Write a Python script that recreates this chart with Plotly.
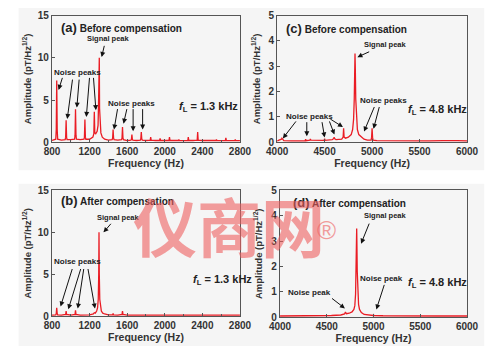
import plotly.graph_objects as go

# ---------------- data ----------------
freq_a = [800, 820, 840, 845, 850, 855, 860, 900, 940, 945, 950, 955, 960, 1000, 1040, 1045, 1050, 1055, 1060,
          1100, 1140, 1145, 1150, 1155, 1160, 1200, 1235, 1245, 1250, 1255, 1265, 1280, 1290, 1295, 1298, 1303,
          1306, 1312, 1320, 1335, 1360, 1400, 1440, 1445, 1450, 1455, 1460, 1500, 1540, 1545, 1550, 1555, 1560,
          1600, 1640, 1645, 1650, 1655, 1660, 1700, 1740, 1745, 1750, 1755, 1760, 1800, 1845, 1850, 1855, 1900,
          1945, 1950, 1955, 2000, 2045, 2050, 2055, 2100, 2145, 2150, 2155, 2200, 2245, 2250, 2255, 2300, 2345,
          2350, 2355, 2400, 2445, 2450, 2455, 2500, 2545, 2550, 2555, 2600, 2645, 2650, 2655, 2700, 2745, 2750,
          2755, 2800]
amp_a = [0.2, 0.25, 0.35, 1.5, 7.3, 1.5, 0.35, 0.25, 0.3, 0.6, 2.6, 0.6, 0.3, 0.3, 0.35, 0.8, 3.9, 0.8, 0.35,
         0.3, 0.35, 0.6, 2.7, 0.6, 0.35, 0.35, 0.6, 1.0, 3.6, 1.1, 1.0, 1.3, 2.0, 4.5, 10.0, 10.0, 4.0, 1.8,
         1.1, 0.6, 0.35, 0.25, 0.3, 0.5, 1.5, 0.5, 0.3, 0.25, 0.3, 0.5, 1.8, 0.5, 0.3, 0.2, 0.25, 0.35, 0.9,
         0.35, 0.25, 0.2, 0.25, 0.4, 1.2, 0.4, 0.25, 0.2, 0.25, 0.6, 0.25, 0.2, 0.22, 0.45, 0.22, 0.2, 0.22,
         0.6, 0.22, 0.2, 0.2, 0.3, 0.2, 0.18, 0.22, 0.6, 0.22, 0.2, 0.25, 1.2, 0.25, 0.2, 0.18, 0.25, 0.18,
         0.18, 0.2, 0.3, 0.2, 0.18, 0.22, 0.5, 0.22, 0.18, 0.2, 0.3, 0.2, 0.18]

freq_b = [800, 820, 840, 845, 850, 855, 860, 900, 945, 950, 955, 1000, 1045, 1050, 1055, 1100, 1145, 1150, 1155,
          1200, 1240, 1250, 1260, 1275, 1285, 1292, 1297, 1300, 1303, 1308, 1315, 1325, 1340, 1360, 1400, 1445,
          1450, 1455, 1500, 1545, 1550, 1555, 1600, 1700, 1800, 1900, 2000, 2050, 2100, 2200, 2300, 2350, 2400,
          2500, 2600, 2650, 2700, 2800]
amp_b = [0.12, 0.12, 0.15, 0.3, 1.0, 0.3, 0.15, 0.12, 0.2, 0.6, 0.2, 0.12, 0.2, 0.7, 0.2, 0.12, 0.12, 0.2, 0.12,
         0.15, 0.25, 0.4, 0.35, 0.6, 1.0, 2.0, 5.0, 10.0, 5.0, 2.0, 1.0, 0.6, 0.35, 0.25, 0.15, 0.15, 0.3, 0.15,
         0.12, 0.2, 0.6, 0.2, 0.12, 0.12, 0.12, 0.12, 0.12, 0.2, 0.12, 0.12, 0.12, 0.2, 0.12, 0.12, 0.12, 0.18,
         0.12, 0.12]

freq_c = [4000, 4030, 4045, 4050, 4055, 4070, 4150, 4250, 4295, 4300, 4305, 4345, 4350, 4355, 4450, 4495, 4500,
          4505, 4580, 4595, 4600, 4605, 4620, 4680, 4695, 4700, 4705, 4720, 4750, 4780, 4795, 4805, 4812, 4817,
          4820, 4823, 4828, 4835, 4845, 4860, 4885, 4900, 4915, 4950, 4990, 4995, 5000, 5005, 5010, 5050, 5200,
          5400, 5600, 5750, 5800, 5900, 6000]
amp_c = [0.05, 0.08, 0.12, 0.16, 0.12, 0.06, 0.05, 0.05, 0.06, 0.12, 0.06, 0.08, 0.13, 0.08, 0.06, 0.07, 0.14,
         0.07, 0.1, 0.14, 0.2, 0.14, 0.1, 0.12, 0.2, 0.55, 0.2, 0.16, 0.2, 0.3, 0.5, 0.9, 1.7, 3.0, 3.5, 3.0,
         1.7, 0.9, 0.5, 0.3, 0.2, 0.16, 0.12, 0.08, 0.08, 0.2, 0.55, 0.2, 0.08, 0.06, 0.05, 0.05, 0.05, 0.06,
         0.05, 0.06, 0.05]

freq_d = [4000, 4200, 4400, 4550, 4650, 4690, 4700, 4710, 4740, 4770, 4790, 4800, 4808, 4814, 4818, 4820, 4822,
          4826, 4832, 4840, 4850, 4870, 4900, 4950, 4995, 5000, 5005, 5100, 5300, 5500, 5700, 6000]
amp_d = [0.04, 0.04, 0.05, 0.06, 0.08, 0.12, 0.2, 0.13, 0.15, 0.2, 0.3, 0.45, 0.9, 1.8, 3.0, 3.5, 3.0, 1.8, 0.9,
         0.5, 0.3, 0.18, 0.1, 0.07, 0.06, 0.09, 0.06, 0.05, 0.04, 0.04, 0.04, 0.04]

panel_tags = ["(a)", "(c)", "(b)", "(d)"]
panel_titles = ["Before compensation", "Before compensation", "After compensation", "After compensation"]
larmor = ["1.3", "4.8", "1.3", "4.8"]
x_ranges = [[800, 2800], [4000, 6000], [800, 2800], [4000, 6000]]
y_ranges = [[0, 15], [0, 5], [0, 15], [0, 5]]
x_dticks = [400, 500, 400, 500]
y_dticks = [5, 1, 5, 1]

RED = "#ea1c24"
FONT = "Arial, Liberation Sans, sans-serif"

fig = go.Figure()
series = [(freq_a, amp_a), (freq_c, amp_c), (freq_b, amp_b), (freq_d, amp_d)]
for i, (fx, fy) in enumerate(series):
    s = "" if i == 0 else str(i + 1)
    fig.add_trace(go.Scatter(x=fx, y=fy, mode="lines", line=dict(color=RED, width=1.3),
                             xaxis="x" + s, yaxis="y" + s, showlegend=False, hoverinfo="skip"))

W, H = 500, 352
boxes = [(43, 240, 10, 141), (279, 478, 10, 141), (43, 240, 191, 321), (282, 478, 191, 322)]
ystand = [4, 6, 4, 7]

layout = dict(width=W, height=H, margin=dict(l=0, r=0, t=0, b=0),
              paper_bgcolor="white", plot_bgcolor="white", font=dict(family=FONT, color="#222"))
axstyle = dict(showline=True, linecolor="#555", linewidth=1.2, mirror=True, ticks="inside", ticklen=3,
               tickcolor="#555", showgrid=False, zeroline=False,
               tickfont=dict(family=FONT, size=10, color="#333"))
for i, (l, r, t, b) in enumerate(boxes):
    s = "" if i == 0 else str(i + 1)
    layout["xaxis" + s] = dict(axstyle, domain=[l / W, r / W], range=x_ranges[i], dtick=x_dticks[i],
                               anchor="y" + s, tickprefix="<b>", ticksuffix="</b>",
                               minor=dict(ticks="inside", ticklen=2, tickcolor="#555", nticks=2),
                               title=dict(text="<b>Frequency (Hz)</b>", font=dict(size=10.5, color="#333"),
                                          standoff=2))
    layout["yaxis" + s] = dict(axstyle, domain=[1 - b / H, 1 - t / H], range=y_ranges[i], dtick=y_dticks[i],
                               anchor="x" + s, tickprefix="<b>", ticksuffix="</b>",
                               title=dict(text="<b>Amplitude (pT/Hz<sup>1/2</sup>)</b>",
                                          font=dict(size=9.5, color="#333"), standoff=ystand[i]))

layout["shapes"] = [
    dict(type="rect", xref="paper", yref="paper", x0=8 / W, x1=496 / W, y0=1 - 170 / H, y1=1 - 2 / H,
         fillcolor="#f5f5f5", line=dict(width=0), layer="below"),
    dict(type="rect", xref="paper", yref="paper", x0=8 / W, x1=496 / W, y0=0, y1=1 - 184 / H,
         fillcolor="#f5f5f5", line=dict(width=0), layer="below"),
]

ann = []
def txt(i, x, y, text, size=8, xanchor="center"):
    s = "" if i == 0 else str(i + 1)
    ann.append(dict(xref="x" + s, yref="y" + s, x=x, y=y, text=text, showarrow=False, xanchor=xanchor,
                    font=dict(family=FONT, size=size, color="#222")))

def arrow(i, x0, y0, x1, y1):
    s = "" if i == 0 else str(i + 1)
    ann.append(dict(xref="x" + s, yref="y" + s, axref="x" + s, ayref="y" + s, x=x1, y=y1, ax=x0, ay=y0,
                    text="", showarrow=True, arrowhead=2, arrowsize=1, arrowwidth=1, arrowcolor="#111"))

title_pos = [(50, 22), (286, 23), (50, 201), (293, 203)]
fl_pos = [(2465, 4.2), (5688, 1.26), (2617, 4.3), (5683, 1.34)]
for i in range(4):
    px, py = title_pos[i]
    ann.append(dict(xref="paper", yref="paper", x=px / W, y=1 - py / H, xanchor="left", yanchor="middle",
                    showarrow=False,
                    text="<b><span style='font-size:13px'>" + panel_tags[i] + "</span> " + panel_titles[i] + "</b>",
                    font=dict(family=FONT, size=10, color="#222")))
    txt(i, fl_pos[i][0], fl_pos[i][1], "<b><i>f</i><sub>L</sub> = " + larmor[i] + " kHz</b>", size=11)

# panel (a)
txt(0, 1400, 12.3, "<b>Signal peak</b>", 7.5)
arrow(0, 1360, 11.6, 1328, 10.1)
txt(0, 1070, 8.3, "<b>Noise peaks</b>", 8)
for (x0, y0, x1, y1) in [(915, 7.8, 870, 6.2), (1020, 7.6, 962, 2.75), (1090, 7.6, 1064, 4.1),
                         (1200, 7.8, 1165, 3.0), (1240, 7.8, 1267, 3.8)]:
    arrow(0, x0, y0, x1, y1)
txt(0, 1645, 4.6, "<b>Noise peaks</b>", 8)
for (x0, y0, x1, y1) in [(1500, 4.1, 1460, 1.5), (1600, 4.1, 1561, 2.2), (1663, 4.1, 1663, 1.3),
                         (1764, 4.1, 1764, 1.5)]:
    arrow(0, x0, y0, x1, y1)

# panel (c)
txt(1, 5146, 3.85, "<b>Signal peak</b>", 7.5)
arrow(1, 4985, 3.6, 4845, 3.36)
txt(1, 4342, 1.0, "<b>Noise peaks</b>", 8)
for (x0, y0, x1, y1) in [(4210, 0.88, 4060, 0.15), (4312, 0.85, 4312, 0.23), (4470, 0.85, 4500, 0.19),
                         (4545, 0.88, 4603, 0.3), (4545, 0.95, 4693, 0.6)]:
    arrow(1, x0, y0, x1, y1)
txt(1, 5116, 1.65, "<b>Noise peaks</b>", 8)
for (x0, y0, x1, y1) in [(5030, 1.45, 4915, 0.42), (5080, 1.45, 5015, 0.53)]:
    arrow(1, x0, y0, x1, y1)

# panel (b)
txt(2, 1511, 11.8, "<b>Signal peak</b>", 7.5)
arrow(2, 1440, 11.2, 1348, 10.0)
txt(2, 1074, 6.5, "<b>Noise peaks</b>", 8)
for (x0, y0, x1, y1) in [(1020, 5.8, 891, 1.15), (1110, 5.8, 973, 0.8), (1140, 5.8, 1074, 0.9),
                         (1180, 5.8, 1257, 0.9)]:
    arrow(2, x0, y0, x1, y1)

# panel (d)
txt(3, 5133, 4.0, "<b>Signal peak</b>", 7.5)
arrow(3, 4960, 3.75, 4867, 2.9)
txt(3, 4316, 0.95, "<b>Noise peak</b>", 8)
arrow(3, 4540, 0.78, 4694, 0.34)
txt(3, 5081, 1.53, "<b>Noise peak</b>", 8)
arrow(3, 5120, 1.33, 5030, 0.3)

# watermark
ann.append(dict(xref="paper", yref="paper", x=228 / W, y=1 - 275 / H, showarrow=False, text="<b>仪商网</b>",
                font=dict(family="Noto Sans CJK SC", size=64, color="rgba(238,95,95,0.6)")))
ann.append(dict(xref="paper", yref="paper", x=343 / W, y=1 - 250 / H, showarrow=False, text="®",
                font=dict(family=FONT, size=26, color="rgba(238,95,95,0.6)")))

layout["annotations"] = ann
fig.update_layout(**layout)
fig.write_html("out.html")
